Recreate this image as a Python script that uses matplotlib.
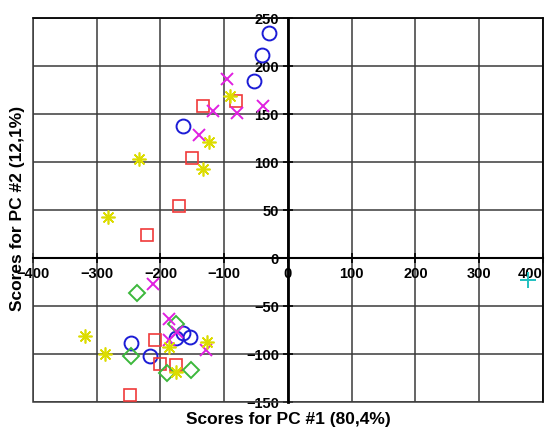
import matplotlib.pyplot as plt
from matplotlib.patches import Rectangle

plt.rcParams['font.family'] = ['Liberation Sans', 'DejaVu Sans']
plt.rcParams['font.weight'] = 'bold'

# scores, one group per marker
circ_x = [-29, -40, -54, -165, -247, -216, -175, -165, -154]
circ_y = [234, 211, 184, 138, -88, -102, -83, -78, -82]
sq_x = [-82, -134, -150, -171, -221, -208, -201, -175, -248]
sq_y = [164, 158, 104, 54, 24, -85, -110, -111, -143]
dia_x = [-237, -246, -190, -152, -175]
dia_y = [-36, -102, -120, -117, -69]
cross_x = [-95, -118, -80, -39, -140, -212, -186, -186, -129, -174]
cross_y = [186, 153, 151, 158, 128, -27, -63, -85, -96, -77]
ast_x = [-91, -124, -234, -134, -283, -319, -287, -187, -175, -127]
ast_y = [169, 121, 103, 93, 43, -81, -100, -93, -119, -87]
plus_x = [376]
plus_y = [-23]

fig = plt.figure(figsize=(5.54, 4.30), dpi=100)
ax = fig.add_axes([0.0596, 0.065, 0.9204, 0.893])

ax.plot(circ_x, circ_y, 'o', ms=10, mfc='none', mec='#1c1cd6', mew=1.4, ls='none')
ax.plot(sq_x, sq_y, 's', ms=8, mfc='none', mec='#f03a3a', mew=1.2, ls='none')
ax.plot(dia_x, dia_y, 'D', ms=8, mfc='none', mec='#3cb83c', mew=1.4, ls='none')
ax.plot(cross_x, cross_y, 'x', ms=9, mec='#e020e0', mew=1.4, ls='none')
ax.plot(ast_x, ast_y, marker=(8, 2, 0), ms=10, mec='#dcdc00', mew=1.2, ls='none')
ax.plot(plus_x, plus_y, '+', ms=11, mec='#20c0c0', mew=1.4, ls='none')

ax.set_xlim(-400, 400)
ax.set_ylim(-150, 250)
ax.set_xticks(range(-400, 401, 100))
ax.set_yticks(range(-150, 251, 50))
ax.grid(True, color='#3a3a3a', lw=1.1)
ax.set_axisbelow(True)

ax.spines['left'].set_position(('data', 0))
ax.spines['bottom'].set_position(('data', 0))
ax.spines['left'].set_linewidth(2)
ax.spines['bottom'].set_linewidth(1.5)
for s in ['top', 'right']:
    ax.spines[s].set_linewidth(1.1)
ax.add_patch(Rectangle((0, 0), 1, 1, transform=ax.transAxes, fill=False,
                       ec='#3a3a3a', lw=1.1, clip_on=False))

ax.tick_params(direction='inout', length=7, width=1.2, labelsize=10.5, pad=3)
for lab in ax.get_xticklabels() + ax.get_yticklabels():
    lab.set_fontweight('bold')
ax.get_xticklabels()[-1].set_horizontalalignment('right')

fig.text(0.52, 0.025, 'Scores for PC #1 (80,4%)', ha='center', va='center',
         fontsize=12.5, fontweight='bold')
fig.text(0.032, 0.515, 'Scores for PC #2 (12,1%)', ha='center', va='center',
         rotation=90, fontsize=12.5, fontweight='bold')

plt.savefig('out.png', dpi=100)
